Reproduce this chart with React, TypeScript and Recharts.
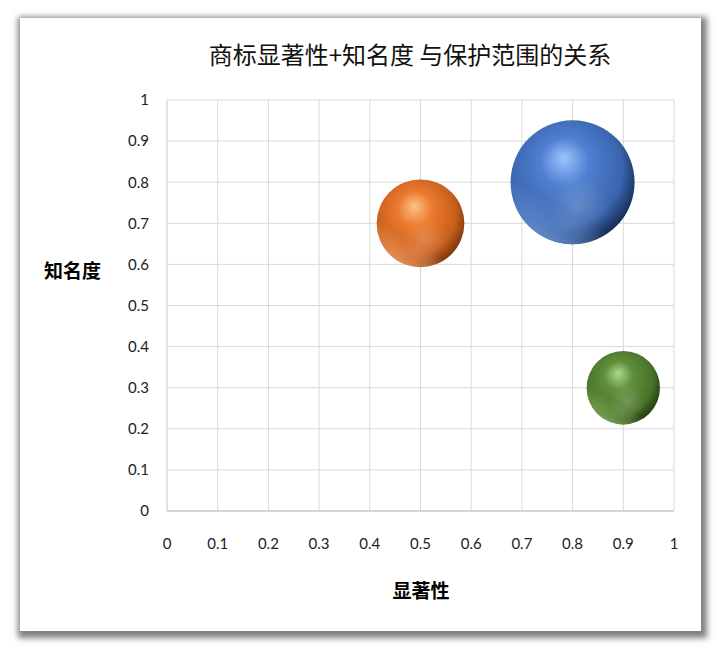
import React from "react";
import { ScatterChart, Scatter, XAxis, YAxis, ZAxis, CartesianGrid, Cell } from "recharts";

// 显著性 (x), 知名度 (y), bubble size
const names = ["orange", "blue", "green"];
const xValues = [0.5, 0.8, 0.9];
const yValues = [0.7, 0.8, 0.3];
const sizes = [1.5, 3, 1.05];
const axisTicks = [0, 0.1, 0.2, 0.3, 0.4, 0.5, 0.6, 0.7, 0.8, 0.9, 1];

const palette = [
    { light: "#ffc28a", base: "#ec7a2e", mid: "#c85f1c", dark: "#6e300a", rim: "#f7a064" },
    { light: "#9ec4ff", base: "#4f7fd0", mid: "#3a64ad", dark: "#0f2345", rim: "#6f9be0" },
    { light: "#a9d98a", base: "#5f8f3a", mid: "#4a7329", dark: "#1c300d", rim: "#86b35e" },
];

const bubbleData = xValues.map((x, i) => ({ x, y: yValues[i], z: sizes[i], name: names[i] }));

const tickFont = { fontFamily: "Lato, 'Noto Sans', sans-serif", fontSize: 15, fill: "#222" };

function Bubble(props: any) {
    const { cx, cy, size, width, index } = props;
    const r = size ? Math.sqrt(size / Math.PI) : width / 2;
    const i = index ?? 0;
    return (
        <g>
            <circle cx={cx} cy={cy} r={r} fill={`url(#ball${i})`} />
            <circle cx={cx} cy={cy} r={r} fill={`url(#rim${i})`} />
            <circle cx={cx} cy={cy} r={r} fill="url(#shine)" />
        </g>
    );
}

export default function App() {
    return (
        <div style={{ position: "absolute", left: 0, top: 0, width: 718, height: 647, background: "#fff" }}>
            <div
                style={{
                    position: "absolute",
                    left: 20,
                    top: 18,
                    width: 681,
                    height: 613,
                    background: "#fff",
                    boxShadow: "2px 3px 6px 4px rgba(0,0,0,0.5)",
                }}
            />
            <div
                style={{
                    position: "absolute",
                    left: 0,
                    width: 820,
                    top: 38,
                    textAlign: "center",
                    fontFamily: "'Noto Sans CJK SC', sans-serif",
                    fontSize: 24,
                    color: "#111",
                    lineHeight: "32px",
                }}
            >
                商标显著性+知名度 与保护范围的关系
            </div>
            <div
                style={{
                    position: "absolute",
                    left: 44,
                    top: 256,
                    fontFamily: "'Noto Sans CJK SC', sans-serif",
                    fontSize: 19,
                    fontWeight: 700,
                    color: "#000",
                    lineHeight: "28px",
                }}
            >
                知名度
            </div>
            <div
                style={{
                    position: "absolute",
                    left: 0,
                    width: 842,
                    top: 576,
                    textAlign: "center",
                    fontFamily: "'Noto Sans CJK SC', sans-serif",
                    fontSize: 19,
                    fontWeight: 700,
                    color: "#000",
                    lineHeight: "28px",
                }}
            >
                显著性
            </div>
            <div style={{ position: "absolute", left: 0, top: 0 }}>
                <ScatterChart width={718} height={647} margin={{ top: 100, right: 44, bottom: 86, left: 107 }}>
                    <defs>
                        {palette.map((c, i) => (
                            <radialGradient key={`b${i}`} id={`ball${i}`} cx="0.45" cy="0.42" r="0.62" fx="0.43" fy="0.3">
                                <stop offset="0" stopColor={c.light} />
                                <stop offset="0.32" stopColor={c.base} />
                                <stop offset="0.74" stopColor={c.mid} />
                                <stop offset="1" stopColor={c.dark} />
                            </radialGradient>
                        ))}
                        {palette.map((c, i) => (
                            <linearGradient key={`r${i}`} id={`rim${i}`} x1="0.7" y1="0.3" x2="0.3" y2="1">
                                <stop offset="0.6" stopColor={c.rim} stopOpacity={0} />
                                <stop offset="1" stopColor={c.rim} stopOpacity={0.9} />
                            </linearGradient>
                        ))}
                        <radialGradient id="shine" cx="0.55" cy="0.7" r="0.25">
                            <stop offset="0" stopColor="#ffffff" stopOpacity={0.18} />
                            <stop offset="1" stopColor="#ffffff" stopOpacity={0} />
                        </radialGradient>
                    </defs>
                    <CartesianGrid stroke="#d9d9d9" />
                    <XAxis
                        type="number"
                        dataKey="x"
                        domain={[0, 1]}
                        ticks={axisTicks}
                        height={50}
                        tickSize={0}
                        tickMargin={27}
                        tick={tickFont}
                        axisLine={{ stroke: "#bfbfbf" }}
                        tickFormatter={(v: number) => String(Math.round(v * 10) / 10)}
                        interval={0}
                    />
                    <YAxis
                        type="number"
                        dataKey="y"
                        domain={[0, 1]}
                        ticks={axisTicks}
                        width={60}
                        tickSize={0}
                        tickMargin={18}
                        tick={tickFont}
                        axisLine={{ stroke: "#d9d9d9" }}
                        tickFormatter={(v: number) => String(Math.round(v * 10) / 10)}
                        interval={0}
                    />
                    <ZAxis type="number" dataKey="z" domain={[0, 3]} range={[0, Math.PI * 62 * 62]} />
                    <Scatter data={bubbleData} shape={<Bubble />} isAnimationActive={false}>
                        {bubbleData.map((d, i) => (
                            <Cell key={d.name} index={i} />
                        ))}
                    </Scatter>
                </ScatterChart>
            </div>
        </div>
    );
}
